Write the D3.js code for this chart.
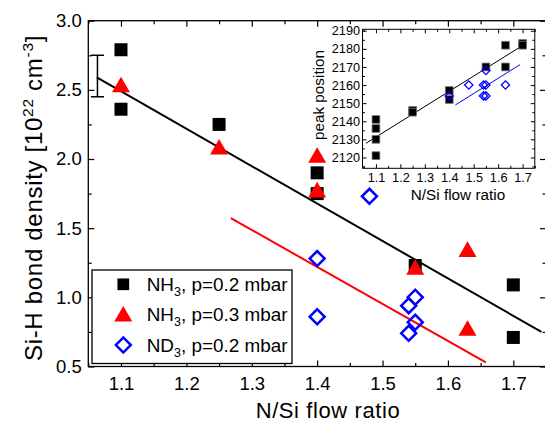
<!DOCTYPE html>
<html>
<head>
<meta charset="utf-8">
<script src="https://cdn.jsdelivr.net/npm/d3@7"></script>
<style>
  body { margin: 0; background: #fff; }
  text { font-family: "Liberation Sans", Arial, Helvetica, sans-serif; fill: #000; }
</style>
</head>
<body>
<svg id="chart" width="545" height="423"></svg>
<script>
// ---- Si-H bond density vs N/Si flow ratio ----
const xTickValues = [1.1, 1.2, 1.3, 1.4, 1.5, 1.6, 1.7];
const yTickValues = [0.5, 1.0, 1.5, 2.0, 2.5, 3.0];

// NH3, p = 0.2 mbar
const nh3LowX = [1.1, 1.1, 1.25, 1.4, 1.4, 1.55, 1.7, 1.7];
const nh3LowY = [2.79, 2.36, 2.25, 1.90, 1.75, 1.23, 1.09, 0.71];
// NH3, p = 0.3 mbar
const nh3HighX = [1.1, 1.25, 1.4, 1.4, 1.55, 1.63, 1.63];
const nh3HighY = [2.52, 2.07, 2.01, 1.76, 1.20, 1.33, 0.76];
// ND3, p = 0.2 mbar
const nd3X = [1.4, 1.4, 1.48, 1.54, 1.54, 1.55, 1.55];
const nd3Y = [1.28, 0.86, 1.73, 0.94, 0.74, 1.00, 0.82];

// linear fits (end points)
const fitNH3X = [1.063, 1.743];
const fitNH3Y = [2.59, 0.75];
const fitND3X = [1.268, 1.658];
const fitND3Y = [1.573, 0.53];

// typical error bar
const errBarX = 1.064;
const errBarY = 2.6;
const errBarHalf = 0.15;

// ---- inset: peak position ----
const insetXTicks = [1.1, 1.2, 1.3, 1.4, 1.5, 1.6, 1.7];
const insetYTicks = [2120, 2130, 2140, 2150, 2160, 2170, 2180, 2190];
const peakNH3X = [1.1, 1.1, 1.1, 1.1, 1.25, 1.25, 1.4, 1.4, 1.55, 1.63, 1.63, 1.7, 1.7];
const peakNH3Y = [2141, 2136, 2130, 2121, 2146, 2145, 2157, 2152, 2170, 2182, 2170, 2183, 2182];
const peakND3X = [1.4, 1.48, 1.54, 1.55, 1.54, 1.55, 1.55, 1.63];
const peakND3Y = [2154, 2160, 2160, 2160, 2154, 2154, 2168, 2160];
const peakFitNH3X = [1.059, 1.69];
const peakFitNH3Y = [2127.8, 2181];
const peakFitND3X = [1.425, 1.69];
const peakFitND3Y = [2149, 2171.3];

const legendLabels = [
  { sym: "square", base: "NH", rest: ", p=0.2 mbar" },
  { sym: "triangle", base: "NH", rest: ", p=0.3 mbar" },
  { sym: "diamond", base: "ND", rest: ", p=0.2 mbar" }
];

const svg = d3.select("#chart");

// main scales
const x = d3.scaleLinear().domain([1.05, 1.75]).range([88.3, 546]);
const y = d3.scaleLinear().domain([0.5, 3.0]).range([366.5, 20.7]);

const BLUE = "#0000ff", RED = "#ff0000";

const symSquare = d3.symbol().type(d3.symbolSquare);
const symTri = d3.symbol().type(d3.symbolTriangle);

function minorRange(a, b, step) {
  const out = [];
  for (let v = a; v <= b + 1e-9; v += step) out.push(+v.toFixed(4));
  return out;
}

// frame
const [x0, x1] = x.range();
const [y0, y1] = y.range();
svg.append("rect")
  .attr("x", x0).attr("y", y1).attr("width", x1 - x0).attr("height", y0 - y1)
  .attr("fill", "none").attr("stroke", "#000").attr("stroke-width", 1.3);

function styleAxis(g) {
  g.select(".domain").remove();
  g.selectAll("line").attr("stroke", "#000").attr("stroke-width", 1.2);
}

const xMinor = minorRange(1.05, 1.75, 0.05).filter(v => !xTickValues.some(t => Math.abs(t - v) < 1e-6));
const yMinor = minorRange(0.5, 3.0, 0.25).filter(v => !yTickValues.some(t => Math.abs(t - v) < 1e-6));

// bottom axis
svg.append("g").attr("transform", `translate(0,${y0})`)
  .call(d3.axisBottom(x).tickValues(xTickValues).tickSize(-6).tickPadding(10).tickFormat(d3.format(".1f")))
  .call(styleAxis)
  .call(g => g.selectAll("text").style("font-size", "18.5px").attr("fill", "#000"));
svg.append("g").attr("transform", `translate(0,${y0})`)
  .call(d3.axisBottom(x).tickValues(xMinor).tickSize(-3.5).tickFormat(""))
  .call(styleAxis);
// top axis
svg.append("g").attr("transform", `translate(0,${y1})`)
  .call(d3.axisTop(x).tickValues(xTickValues).tickSize(-6).tickFormat(""))
  .call(styleAxis);
svg.append("g").attr("transform", `translate(0,${y1})`)
  .call(d3.axisTop(x).tickValues(xMinor).tickSize(-3.5).tickFormat(""))
  .call(styleAxis);
// left axis
svg.append("g").attr("transform", `translate(${x0},0)`)
  .call(d3.axisLeft(y).tickValues(yTickValues).tickSize(-6).tickPadding(6.5).tickFormat(d3.format(".1f")))
  .call(styleAxis)
  .call(g => g.selectAll("text").style("font-size", "18.5px").attr("fill", "#000"));
svg.append("g").attr("transform", `translate(${x0},0)`)
  .call(d3.axisLeft(y).tickValues(yMinor).tickSize(-3.5).tickFormat(""))
  .call(styleAxis);
// right axis
svg.append("g").attr("transform", `translate(${x1},0)`)
  .call(d3.axisRight(y).tickValues(yTickValues).tickSize(-6).tickFormat(""))
  .call(styleAxis);
svg.append("g").attr("transform", `translate(${x1},0)`)
  .call(d3.axisRight(y).tickValues(yMinor).tickSize(-3.5).tickFormat(""))
  .call(styleAxis);

// axis titles
svg.append("text")
  .attr("x", 328).attr("y", 418)
  .attr("text-anchor", "middle")
  .style("font-size", "22px").style("letter-spacing", "0.6px")
  .text("N/Si flow ratio");

const yTitle = svg.append("text")
  .attr("transform", "translate(42,198) rotate(-90)")
  .attr("text-anchor", "middle")
  .style("font-size", "24px").style("letter-spacing", "0.7px");
yTitle.append("tspan").text("Si-H bond density [10");
yTitle.append("tspan").attr("dy", -9).style("font-size", "15.5px").text("22");
yTitle.append("tspan").attr("dy", 9).text(" cm");
yTitle.append("tspan").attr("dy", -9).style("font-size", "15.5px").text("-3");
yTitle.append("tspan").attr("dy", 9).text("]");

// fit lines
const line = d3.line().x(d => x(d[0])).y(d => y(d[1]));
svg.append("path").datum(d3.zip(fitNH3X, fitNH3Y))
  .attr("d", line).attr("fill", "none").attr("stroke", "#000").attr("stroke-width", 2);
svg.append("path").datum(d3.zip(fitND3X, fitND3Y))
  .attr("d", line).attr("fill", "none").attr("stroke", RED).attr("stroke-width", 2);

// error bar
const eb = svg.append("g").attr("stroke", "#000").attr("stroke-width", 1.5);
eb.append("line")
  .attr("x1", x(errBarX)).attr("x2", x(errBarX))
  .attr("y1", y(errBarY + errBarHalf)).attr("y2", y(errBarY - errBarHalf));
[errBarY + errBarHalf, errBarY - errBarHalf].forEach(v => {
  eb.append("line")
    .attr("x1", x(errBarX) - 6.5).attr("x2", x(errBarX) + 6.5)
    .attr("y1", y(v)).attr("y2", y(v));
});

// markers
svg.append("g").selectAll("path").data(d3.zip(nh3LowX, nh3LowY)).join("path")
  .attr("transform", d => `translate(${x(d[0])},${y(d[1])})`)
  .attr("d", symSquare.size(169)()).attr("fill", "#000");

svg.append("g").selectAll("path").data(d3.zip(nh3HighX, nh3HighY)).join("path")
  .attr("transform", d => `translate(${x(d[0])},${y(d[1])})`)
  .attr("d", symTri.size(140)()).attr("fill", RED);

svg.append("g").selectAll("path").data(d3.zip(nd3X, nd3Y)).join("path")
  .attr("transform", d => `translate(${x(d[0])},${y(d[1])}) rotate(45)`)
  .attr("d", symSquare.size(112)()).attr("fill", "none")
  .attr("stroke", BLUE).attr("stroke-width", 2.5);

// legend
const lg = svg.append("g");
lg.append("rect").attr("x", 92).attr("y", 270).attr("width", 200).attr("height", 93.5)
  .attr("fill", "#fff").attr("stroke", "#000").attr("stroke-width", 1.3);
const rowY = [284.3, 314.3, 345];
legendLabels.forEach((d, i) => {
  const cy = rowY[i];
  const p = lg.append("path").attr("transform", `translate(123.3,${cy})` + (d.sym === "diamond" ? " rotate(45)" : ""));
  if (d.sym === "square") p.attr("d", symSquare.size(137)()).attr("fill", "#000");
  else if (d.sym === "triangle") p.attr("transform", `translate(123.3,${cy + 2})`).attr("d", symTri.size(140)()).attr("fill", RED);
  else p.attr("d", symSquare.size(112)()).attr("fill", "none").attr("stroke", BLUE).attr("stroke-width", 2.5);
  const t = lg.append("text").attr("x", 146.7).attr("y", cy + 6.7).style("font-size", "18.9px");
  t.append("tspan").text(d.base);
  t.append("tspan").attr("dy", 5).style("font-size", "12.5px").text("3");
  t.append("tspan").attr("dy", -5).text(d.rest);
});

// ---- inset ----
const xi = d3.scaleLinear().domain([1.045, 1.75]).range([362.5, 534.8]);
const yi = d3.scaleLinear().domain([2114, 2190.8]).range([168.3, 29.3]);
const [xi0, xi1] = xi.range();
const [yi0, yi1] = yi.range();
const inset = svg.append("g");
inset.append("rect")
  .attr("x", xi0).attr("y", yi1).attr("width", xi1 - xi0).attr("height", yi0 - yi1)
  .attr("fill", "#fff").attr("stroke", "#000").attr("stroke-width", 1);

const ixMinor = minorRange(1.05, 1.75, 0.05).filter(v => !insetXTicks.some(t => Math.abs(t - v) < 1e-6));
const iyMinor = minorRange(2115, 2190, 5).filter(v => !insetYTicks.includes(v));

function styleInsetAxis(g) {
  g.select(".domain").remove();
  g.selectAll("line").attr("stroke", "#000").attr("stroke-width", 1);
}
inset.append("g").attr("transform", `translate(0,${yi0})`)
  .call(d3.axisBottom(xi).tickValues(insetXTicks).tickSize(-4).tickPadding(5).tickFormat(d3.format(".1f")))
  .call(styleInsetAxis)
  .call(g => g.selectAll("text").style("font-size", "12.7px").attr("fill", "#000"));
inset.append("g").attr("transform", `translate(0,${yi0})`)
  .call(d3.axisBottom(xi).tickValues(ixMinor).tickSize(-2.5).tickFormat(""))
  .call(styleInsetAxis);
inset.append("g").attr("transform", `translate(0,${yi1})`)
  .call(d3.axisTop(xi).tickValues(insetXTicks).tickSize(-4).tickFormat(""))
  .call(styleInsetAxis);
inset.append("g").attr("transform", `translate(0,${yi1})`)
  .call(d3.axisTop(xi).tickValues(ixMinor).tickSize(-2.5).tickFormat(""))
  .call(styleInsetAxis);
inset.append("g").attr("transform", `translate(${xi0},0)`)
  .call(d3.axisLeft(yi).tickValues(insetYTicks).tickSize(-4).tickPadding(2.5).tickFormat(d3.format("d")))
  .call(styleInsetAxis)
  .call(g => g.selectAll("text").style("font-size", "12.7px").attr("fill", "#000"));
inset.append("g").attr("transform", `translate(${xi0},0)`)
  .call(d3.axisLeft(yi).tickValues(iyMinor).tickSize(-2.5).tickFormat(""))
  .call(styleInsetAxis);
inset.append("g").attr("transform", `translate(${xi1},0)`)
  .call(d3.axisRight(yi).tickValues(insetYTicks).tickSize(-4).tickFormat(""))
  .call(styleInsetAxis);
inset.append("g").attr("transform", `translate(${xi1},0)`)
  .call(d3.axisRight(yi).tickValues(iyMinor).tickSize(-2.5).tickFormat(""))
  .call(styleInsetAxis);

inset.append("text")
  .attr("x", 458).attr("y", 200)
  .attr("text-anchor", "middle").style("font-size", "15.3px")
  .text("N/Si flow ratio");
inset.append("text")
  .attr("transform", "translate(324.3,95) rotate(-90)")
  .attr("text-anchor", "middle").style("font-size", "15.3px")
  .text("peak position");

const iline = d3.line().x(d => xi(d[0])).y(d => yi(d[1]));
inset.append("path").datum(d3.zip(peakFitNH3X, peakFitNH3Y))
  .attr("d", iline).attr("fill", "none").attr("stroke", "#000").attr("stroke-width", 1);
inset.append("path").datum(d3.zip(peakFitND3X, peakFitND3Y))
  .attr("d", iline).attr("fill", "none").attr("stroke", BLUE).attr("stroke-width", 1);

inset.append("g").selectAll("path").data(d3.zip(peakNH3X, peakNH3Y)).join("path")
  .attr("transform", d => `translate(${xi(d[0])},${yi(d[1])})`)
  .attr("d", symSquare.size(60)()).attr("fill", "#000")
  .attr("stroke", "#777").attr("stroke-width", 0.8);
inset.append("g").selectAll("path").data(d3.zip(peakND3X, peakND3Y)).join("path")
  .attr("transform", d => `translate(${xi(d[0])},${yi(d[1])}) rotate(45)`)
  .attr("d", symSquare.size(34)()).attr("fill", "none")
  .attr("stroke", BLUE).attr("stroke-width", 1.3);
</script>
</body>
</html>
